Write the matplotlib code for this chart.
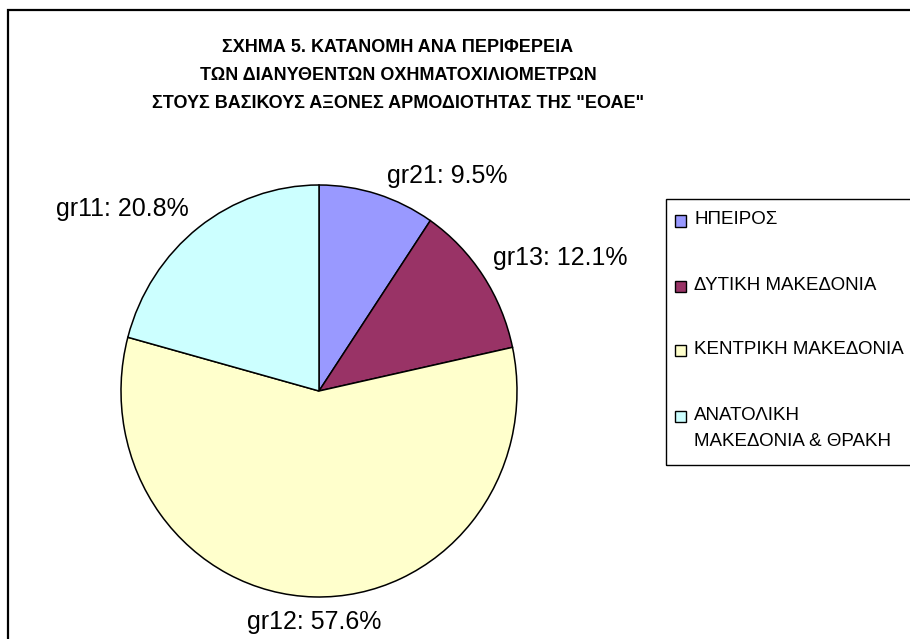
import matplotlib
matplotlib.use("Agg")
import matplotlib.pyplot as plt
import matplotlib.patches as mpatches
import numpy as np

plt.rcParams['font.family'] = ['Liberation Sans', 'DejaVu Sans']

title_lines = ["ΣΧΗΜΑ 5. ΚΑΤΑΝΟΜΗ ΑΝΑ ΠΕΡΙΦΕΡΕΙΑ",
               "ΤΩΝ ΔΙΑΝΥΘΕΝΤΩΝ ΟΧΗΜΑΤΟΧΙΛΙΟΜΕΤΡΩΝ",
               "ΣΤΟΥΣ ΒΑΣΙΚΟΥΣ ΑΞΟΝΕΣ ΑΡΜΟΔΙΟΤΗΤΑΣ ΤΗΣ \"ΕΟΑΕ\""]
codes = ["gr21", "gr13", "gr12", "gr11"]
regions = ["ΗΠΕΙΡΟΣ", "ΔΥΤΙΚΗ ΜΑΚΕΔΟΝΙΑ", "ΚΕΝΤΡΙΚΗ ΜΑΚΕΔΟΝΙΑ",
           "ΑΝΑΤΟΛΙΚΗ\nΜΑΚΕΔΟΝΙΑ & ΘΡΑΚΗ"]
shares = [9.5, 12.1, 57.6, 20.8]
colors = ["#9999FF", "#993366", "#FFFFCC", "#CCFFFF"]

W, H = 910, 639
fig = plt.figure(figsize=(W / 100, H / 100), dpi=100)
fig.patch.set_facecolor("white")


def fx(px):
    return px / W


def fy(py):
    return 1 - py / H


# outer chart frame (right/bottom edges lie outside the image)
fig.add_artist(mpatches.Rectangle((fx(8), -0.2), 1.5, fy(10) + 0.2,
                                  transform=fig.transFigure, fill=False,
                                  edgecolor="black", linewidth=1.6))

# pie axes (slightly elliptical like the original)
cx, cy, rx, ry = 319, 391, 198, 206
ax = fig.add_axes([fx(cx - rx), fy(cy + ry), 2 * rx / W, 2 * ry / H])
wedges, _ = ax.pie(shares, colors=colors, startangle=90, counterclock=False,
                   radius=1, center=(0, 0), frame=False,
                   wedgeprops=dict(edgecolor="black", linewidth=1.1))
ax.set_xlim(-1, 1)
ax.set_ylim(-1, 1)
ax.set_aspect("auto")
ax.axis("off")

for w, code, v in zip(wedges, codes, shares):
    th = np.deg2rad((w.theta1 + w.theta2) / 2)
    c, s = np.cos(th), np.sin(th)
    if abs(c) < 0.2:
        ha, dx = "center", 0
    elif c > 0:
        ha, dx = "left", 10
    else:
        ha, dx = "right", -10
    if s > 0:
        va, dy = "bottom", 6
    else:
        va, dy = "top", -13
    ax.annotate(f"{code}: {v:.1f}%", xy=(c, s), xytext=(dx, dy),
                textcoords="offset pixels", ha=ha, va=va, fontsize=18,
                color="black", annotation_clip=False)

# title
for i, line in enumerate(title_lines):
    fig.text(fx(398), fy(48 + 28 * i), line, ha="center", va="center",
             fontsize=13, fontweight="bold")

# legend (box extends past the right edge, as in the original)
lx, ltop, lbot = 666, 199, 465
fig.add_artist(mpatches.Rectangle((fx(lx), fy(lbot)), 1.0, fy(ltop) - fy(lbot),
                                  transform=fig.transFigure, fill=False,
                                  edgecolor="black", linewidth=1.0))
y0, step, line_gap, hs = 218, 65, 27, 11
for i, (lab, col) in enumerate(zip(regions, colors)):
    ty = y0 + step * i
    fig.add_artist(mpatches.Rectangle((fx(675), fy(ty + 3 + hs / 2)),
                                      hs / W, hs / H,
                                      transform=fig.transFigure,
                                      facecolor=col, edgecolor="black",
                                      linewidth=1.0))
    for j, part in enumerate(lab.split("\n")):
        fig.text(fx(694), fy(ty + 2 + line_gap * j), part, ha="left",
                 va="center", fontsize=13.5, color="black")

fig.savefig("out.png", dpi=100, facecolor="white")
